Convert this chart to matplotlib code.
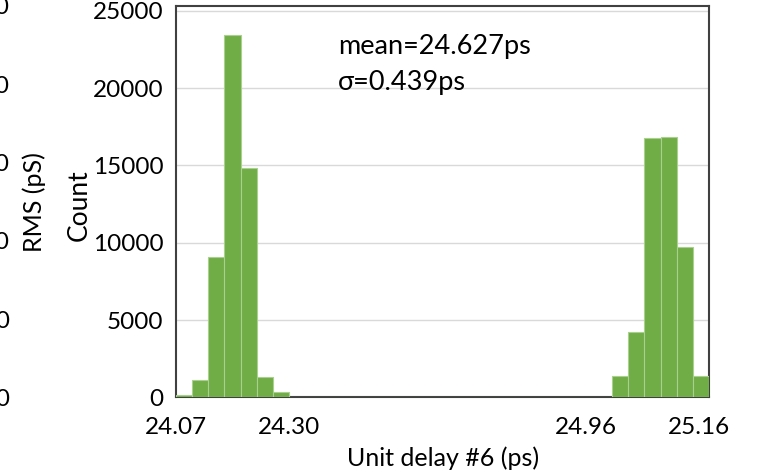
import matplotlib.pyplot as plt
from matplotlib.ticker import FixedLocator

plt.rcParams['font.family'] = ['Lato', 'DejaVu Sans']

# histogram of unit delay #6, one value per bin (33 bins)
counts_low = [170, 1160, 9100, 23400, 14860, 1350, 340]
counts_gap = [0] * 20
counts_high = [1400, 4250, 16750, 16820, 9700, 1400]
counts = counts_low + counts_gap + counts_high
bins = list(range(len(counts)))

tick_labels = ['24.07', '24.30', '24.96', '25.16']
tick_bins = [0, 7, 25.4, 32.4]

y_ticks = [0, 5000, 10000, 15000, 20000, 25000]
stats_text = "mean=24.627ps\nσ=0.439ps"

# neighbouring panel, only its right axis edge shows
rms_ticks = [0, 1, 2, 3, 4, 5]
rms_labels = ['0.0', '1.0', '2.0', '3.0', '4.0', '5.0']

fig = plt.figure(figsize=(7.61, 4.76), dpi=100)

ax2 = fig.add_axes([-0.5, 0.165, 0.4593, 0.8224])
ax2.yaxis.tick_right()
ax2.set_yticks(rms_ticks)
ax2.set_yticklabels(rms_labels, fontsize=17.5)
ax2.set_ylim(0, 5)
ax2.set_xticks([])
ax2.tick_params(axis='y', length=0, pad=5)
for s in ax2.spines.values():
    s.set_visible(False)
ax2.set_ylabel('RMS (pS)', fontsize=18, rotation=90)
ax2.yaxis.set_label_position('right')
ax2.yaxis.set_label_coords(0.029, 0.575, transform=fig.transFigure)

ax = fig.add_axes([0.2313, 0.165, 0.7004, 0.8224])
ax.bar(bins, counts, width=1, align='edge', color='#70ad47',
       edgecolor='#a9d08e', linewidth=0.8, zorder=3)

ax.set_xlim(0, len(counts))
ax.set_ylim(0, 25300)
ax.set_yticks(y_ticks)
ax.set_yticklabels([str(v) for v in y_ticks], fontsize=17.5)
ax.xaxis.set_major_locator(FixedLocator(tick_bins))
ax.set_xticklabels(tick_labels, fontsize=17.5)
ax.tick_params(axis='both', length=0)
ax.tick_params(axis='y', pad=9)
ax.tick_params(axis='x', pad=14)
ax.grid(axis='y', color='#d9d9d9', linewidth=1, zorder=0)

for s in ax.spines.values():
    s.set_color('#404040')
    s.set_linewidth(1.5)

ax.set_ylabel('Count', fontsize=19)
ax.yaxis.set_label_coords(0.121, 0.57, transform=fig.transFigure)
ax.set_xlabel('Unit delay #6 (ps)', fontsize=18)
ax.xaxis.set_label_coords(0.582, 0.062, transform=fig.transFigure)

ax.text(0.304, 0.928, stats_text, transform=ax.transAxes, fontsize=19.5,
        va='top', ha='left', linespacing=1.55, zorder=4)

fig.savefig('out.png', dpi=100)
